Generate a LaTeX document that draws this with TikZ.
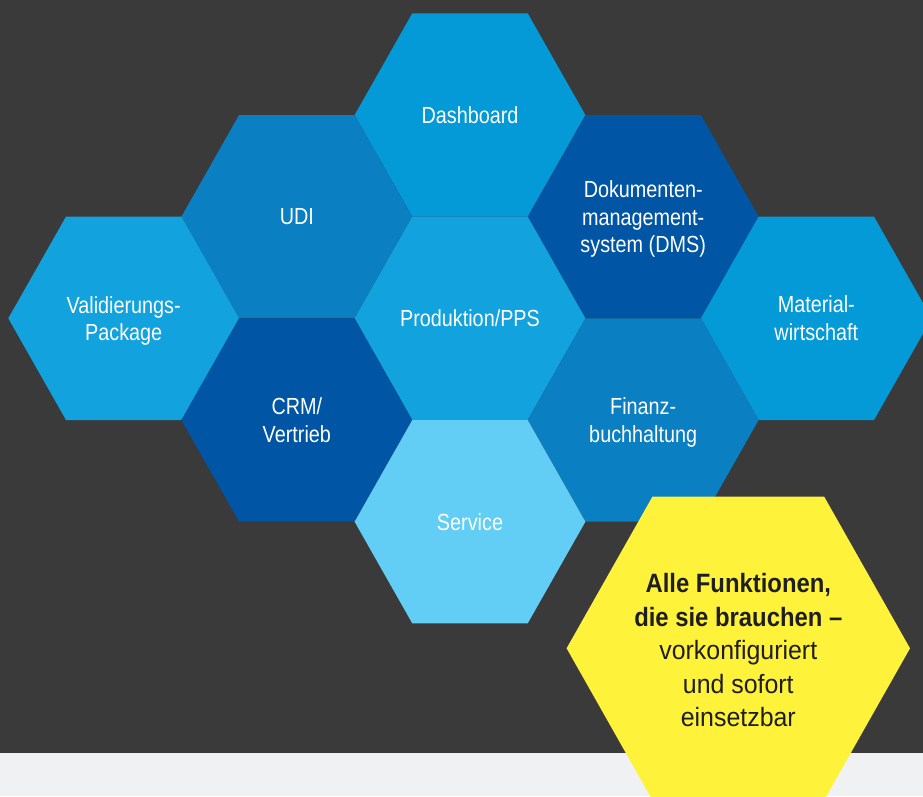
\documentclass[tikz,border=0pt]{standalone}
\usepackage{fontspec}
\setmainfont{Liberation Sans}
\newfontfamily\hexfont{Liberation Sans}[FakeStretch=0.85]
\newfontfamily\yfont{Liberation Sans}[FakeStretch=0.94, BoldFeatures={FakeStretch=0.90}]
\definecolor{bgdark}{HTML}{3A3A3A}
\definecolor{bglight}{HTML}{F0F1F3}
\definecolor{hexA}{HTML}{049AD7}
\definecolor{hexB}{HTML}{12A2DD}
\definecolor{hexC}{HTML}{0A7FC2}
\definecolor{hexD}{HTML}{0055A5}
\definecolor{hexE}{HTML}{62CEF5}
\definecolor{hexY}{HTML}{FFF23A}
\definecolor{ytext}{HTML}{1E1E1E}
\newcommand\hexa[5]{\fill[#1] (#2-#4,#3) -- (#2-#4/2,#3-#5) -- (#2+#4/2,#3-#5) -- (#2+#4,#3) -- (#2+#4/2,#3+#5) -- (#2-#4/2,#3+#5) -- cycle;}
\tikzset{
  lbl/.style={text=white, align=center, inner sep=0pt, font=\hexfont\fontsize{23.3}{27.6}\selectfont},
  ylbl/.style={text=ytext, align=center, inner sep=0pt, font=\yfont\fontsize{26.5}{33.5}\selectfont}
}
\begin{document}
\begin{tikzpicture}[x=1pt,y=-1pt]
\useasboundingbox (0,0) rectangle (923,796);
\clip (0,0) rectangle (923,796);
\fill[bgdark] (0,0) rectangle (923,753.3);
\fill[bglight] (0,753.3) rectangle (923,796);
% hexagons
\hexa{hexA}{470}{115}{115.4}{101.7}
\hexa{hexC}{296.8}{216.7}{115.4}{101.7}
\hexa{hexD}{643.2}{216.7}{115.4}{101.7}
\hexa{hexB}{123.7}{318.3}{115.4}{101.7}
\hexa{hexB}{470}{318.3}{115.4}{101.7}
\hexa{hexA}{816.3}{318.3}{115.4}{101.7}
\hexa{hexD}{296.8}{420}{115.4}{101.7}
\hexa{hexC}{643.2}{420}{115.4}{101.7}
\hexa{hexE}{470}{521.7}{115.4}{101.7}
\hexa{hexY}{738.3}{648.3}{171.7}{151.7}
% labels
\node[lbl] (dash) at (470,115) {Dashboard};
\node[lbl] (udi) at (296.8,216.7) {UDI};
\node[lbl] (dms) at (643.2,219.2) {Dokumenten-\\management-\\system (DMS)};
\node[lbl] (val) at (123.7,320.8) {Validierungs-\\Package};
\node[lbl] (pps) at (470,318.3) {Produktion/PPS};
\node[lbl] (mat) at (816.3,318.3) {Material-\\wirtschaft};
\node[lbl] (crm) at (296.8,420) {CRM/\\Vertrieb};
\node[lbl] (fin) at (643.2,422.5) {Finanz-\\buchhaltung};
\node[lbl] (srv) at (470,521.7) {Service};
\node[ylbl] (yel) at (738.3,650.3) {\textbf{Alle Funktionen,}\\\textbf{die sie brauchen –}\\vorkonfiguriert\\und sofort\\einsetzbar};
\end{tikzpicture}
\end{document}
